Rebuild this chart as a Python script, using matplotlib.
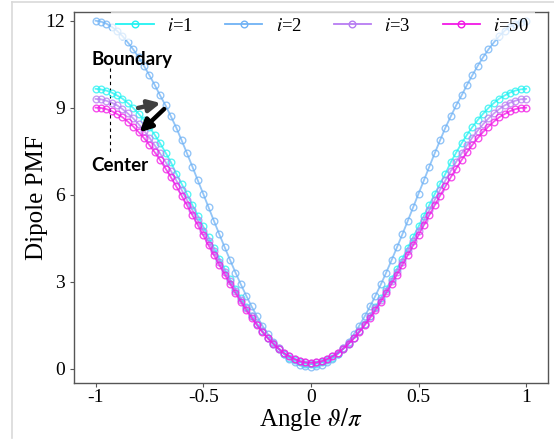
import matplotlib
matplotlib.use('Agg')
import matplotlib.pyplot as plt
from matplotlib.lines import Line2D

plt.rcParams['font.family'] = 'Liberation Serif'
plt.rcParams['mathtext.fontset'] = 'stix'
plt.rcParams['axes.unicode_minus'] = False

# angle theta/pi, step 0.025
theta = [round(-1 + 0.025 * k, 3) for k in range(81)]

pmf_i1 = [9.65, 9.63, 9.59, 9.52, 9.42, 9.31, 9.16, 8.99, 8.79, 8.57,
          8.33, 8.06, 7.77, 7.45, 7.12, 6.72, 6.37, 6.01, 5.64, 5.27,
          4.90, 4.53, 4.16, 3.79, 3.43, 3.08, 2.74, 2.42, 2.11, 1.82,
          1.54, 1.29, 1.06, 0.85, 0.67, 0.51, 0.38, 0.28, 0.21, 0.16,
          0.15,
          0.16, 0.21, 0.28, 0.38, 0.51, 0.67, 0.85, 1.06, 1.29, 1.54,
          1.82, 2.11, 2.42, 2.74, 3.08, 3.43, 3.79, 4.16, 4.53, 4.90,
          5.27, 5.64, 6.01, 6.37, 6.72, 7.12, 7.45, 7.77, 8.06, 8.33,
          8.57, 8.79, 8.99, 9.16, 9.31, 9.42, 9.52, 9.59, 9.63, 9.65]

pmf_i2 = [12.00, 11.97, 11.90, 11.79, 11.65, 11.47, 11.25, 11.01, 10.74, 10.44,
          10.12, 9.78, 9.42, 9.08, 8.70, 8.31, 7.87, 7.42, 6.96, 6.49,
          6.03, 5.56, 5.09, 4.63, 4.18, 3.74, 3.31, 2.90, 2.51, 2.14,
          1.80, 1.48, 1.19, 0.93, 0.70, 0.50, 0.34, 0.22, 0.12, 0.07,
          0.05,
          0.07, 0.12, 0.22, 0.34, 0.50, 0.70, 0.93, 1.19, 1.48, 1.80,
          2.14, 2.51, 2.90, 3.31, 3.74, 4.18, 4.63, 5.09, 5.56, 6.03,
          6.49, 6.96, 7.42, 7.87, 8.31, 8.70, 9.08, 9.42, 9.78, 10.12,
          10.44, 10.74, 11.01, 11.25, 11.47, 11.65, 11.79, 11.90, 11.97, 12.00]

pmf_i3 = [9.30, 9.29, 9.24, 9.17, 9.08, 8.95, 8.80, 8.63, 8.43, 8.21,
          7.97, 7.70, 7.42, 7.13, 6.82, 6.49, 6.16, 5.81, 5.46, 5.11,
          4.75, 4.39, 4.04, 3.69, 3.34, 3.01, 2.68, 2.37, 2.08, 1.80,
          1.53, 1.29, 1.07, 0.87, 0.70, 0.55, 0.42, 0.33, 0.26, 0.21,
          0.20,
          0.21, 0.26, 0.33, 0.42, 0.55, 0.70, 0.87, 1.07, 1.29, 1.53,
          1.80, 2.08, 2.37, 2.68, 3.01, 3.34, 3.69, 4.04, 4.39, 4.75,
          5.11, 5.46, 5.81, 6.16, 6.49, 6.82, 7.13, 7.42, 7.70, 7.97,
          8.21, 8.43, 8.63, 8.80, 8.95, 9.08, 9.17, 9.24, 9.29, 9.30]

pmf_i50 = [9.00, 8.99, 8.95, 8.88, 8.78, 8.67, 8.52, 8.35, 8.16, 7.95,
           7.71, 7.46, 7.19, 6.90, 6.60, 6.28, 5.96, 5.63, 5.29, 4.95,
           4.60, 4.25, 3.91, 3.57, 3.24, 2.92, 2.60, 2.30, 2.01, 1.74,
           1.49, 1.25, 1.04, 0.85, 0.68, 0.53, 0.42, 0.32, 0.25, 0.21,
           0.20,
           0.21, 0.25, 0.32, 0.42, 0.53, 0.68, 0.85, 1.04, 1.25, 1.49,
           1.74, 2.01, 2.30, 2.60, 2.92, 3.24, 3.57, 3.91, 4.25, 4.60,
           4.95, 5.29, 5.63, 5.96, 6.28, 6.60, 6.90, 7.19, 7.46, 7.71,
           7.95, 8.16, 8.35, 8.52, 8.67, 8.78, 8.88, 8.95, 8.99, 9.00]

series = [pmf_i1, pmf_i2, pmf_i3, pmf_i50]
labels = ['$i$=1', '$i$=2', '$i$=3', '$i$=50']
colors = ['#22f2f2', '#6fb2f5', '#b77cf2', '#f218e6']

xticks = [-1, -0.5, 0, 0.5, 1]
xtick_labels = ['-1', '-0.5', '0', '0.5', '1']
yticks = [0, 3, 6, 9, 12]

fig = plt.figure(figsize=(5.54, 4.45), dpi=100)
ax = fig.add_axes([0.1336, 0.1393, 0.855, 0.8337])

# light frame of the screenshot
fig.add_artist(Line2D([12 / 554, 12 / 554], [1 - 2 / 445, 1 - 438 / 445],
                      color='#d9d9d9', lw=1.2, transform=fig.transFigure))
fig.add_artist(Line2D([12 / 554, 1.0], [1 - 2 / 445, 1 - 2 / 445],
                      color='#d9d9d9', lw=1.2, transform=fig.transFigure))

# dashed guide line behind the curves
ax.plot([-0.935, -0.935], [10.38, 7.44], ls=(0, (3, 3)), color='black', lw=0.8, zorder=1)

for y, lab, c in zip(series, labels, colors):
    ax.plot(theta, y, '-o', color=c, lw=1.3, ms=4.8, mfc='none', mew=1.0,
            alpha=0.75, label=lab, zorder=2)

ax.annotate('', xy=(-0.685, 9.18), xytext=(-0.815, 8.97),
            arrowprops=dict(arrowstyle='-|>', color='#404040', lw=3.2, mutation_scale=18),
            zorder=5)
ax.annotate('', xy=(-0.805, 8.08), xytext=(-0.672, 9.02),
            arrowprops=dict(arrowstyle='-|>', color='black', lw=3.2, mutation_scale=18),
            zorder=5)

ax.text(-1.02, 10.66, 'Boundary', fontfamily='Lato', fontweight='bold', fontsize=13.5,
        va='center', ha='left', zorder=6)
ax.text(-1.02, 7.02, 'Center', fontfamily='Lato', fontweight='bold', fontsize=13.5,
        va='center', ha='left', zorder=6)

ax.set_xlim(-1.1, 1.1)
ax.set_ylim(-0.5, 12.3)
ax.set_xticks(xticks)
ax.set_xticklabels(xtick_labels)
ax.set_yticks(yticks)
ax.tick_params(labelsize=14, length=3, color='#555555')
ax.tick_params(axis='x', pad=1.5)
for sp in ax.spines.values():
    sp.set_color('#555555')
    sp.set_linewidth(1.0)

ax.set_xlabel(r'Angle $\vartheta/\pi$', fontsize=18, labelpad=0)
ax.set_ylabel('Dipole PMF', fontsize=18, labelpad=-2)

leg = ax.legend(loc='upper center', ncol=4, frameon=True, fontsize=13.5,
                bbox_to_anchor=(0.525, 1.025), handlelength=2.0,
                columnspacing=1.7, handletextpad=0.7, fancybox=False,
                borderpad=0.3)
leg.get_frame().set_facecolor('white')
leg.get_frame().set_edgecolor('none')
leg.get_frame().set_alpha(0.7)
for h in leg.legend_handles:
    h.set_alpha(1.0)

plt.savefig('out.png', dpi=100)
plt.close()
